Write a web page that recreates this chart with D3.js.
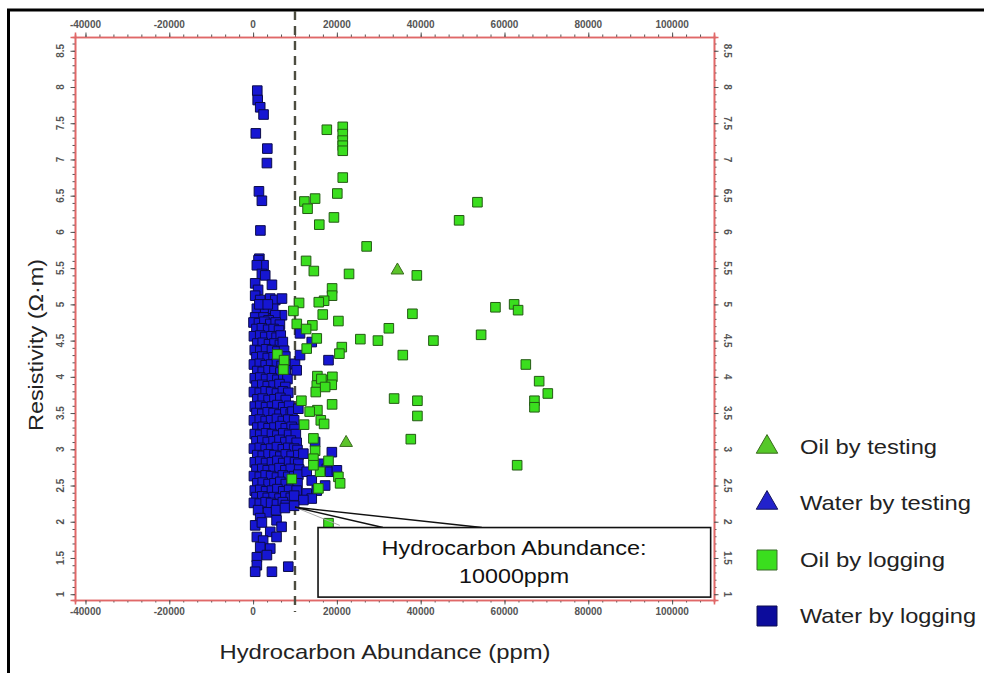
<!DOCTYPE html>
<html><head><meta charset="utf-8">
<script src="https://cdn.jsdelivr.net/npm/d3@7"></script>
<style>
body{margin:0;background:#fff;}
svg{display:block;font-family:Arial,"Liberation Sans",sans-serif;}
</style>
</head><body>
<svg id="c" width="984" height="673"></svg>
<script>
// ---------- data ----------
const xTicks = [-40000,-20000,0,20000,40000,60000,80000,100000];
const yTicks = [1,1.5,2,2.5,3,3.5,4,4.5,5,5.5,6,6.5,7,7.5,8,8.5];
const yTickLabels = ["1","1.5","2","2.5","3","3.5","4","4.5","5","5.5","6","6.5","7","7.5","8","8.5"];
const legendLabels = ["Oil by testing","Water by testing","Oil by logging","Water by logging"];
const xTitle = "Hydrocarbon Abundance (ppm)";
const yTitle = "Resistivity (\u03A9\u00B7m)";
const cutoff = 10000;
const noteLines = ["Hydrocarbon Abundance:","10000ppm"];

const oilTesting = [[34450,5.47],[22200,3.09]];
const waterTesting = [];
const oilLogging = [
[17600,7.41],[21400,7.45],[21400,7.35],[21400,7.26],[21400,7.19],[21400,7.12],[21400,6.75],[20100,6.53],
[14800,6.46],[12250,6.42],[13000,6.32],[19300,6.20],[15800,6.10],[27100,5.80],[12650,5.60],[14500,5.46],
[22900,5.42],[18860,5.22],[18860,5.12],[16950,5.05],[15680,5.03],[10980,5.02],[9620,4.91],[16630,4.86],
[20360,4.77],[10430,4.73],[14150,4.71],[12650,4.66],[32400,4.67],[15200,4.53],[25600,4.52],[29800,4.50],
[21170,4.41],[20600,4.32],[12800,4.39],[5800,4.31],[7400,4.23],[7240,4.10],[15350,4.01],[17600,3.95],
[18930,4.00],[15200,3.88],[14960,3.79],[18780,3.89],[33660,3.70],[11530,3.67],[18860,3.62],[15350,3.54],
[16160,3.40],[12170,3.34],[16950,3.35],[14400,3.15],[14800,2.98],[14400,2.87],[18000,2.84],[16000,2.69],
[14400,2.78],[20360,2.62],[20770,2.53],[9240,2.59],[15600,2.46],[18000,1.98],[53540,6.41],[49170,6.16],
[39080,5.40],[38030,4.87],[43040,4.50],[35730,4.30],[57840,4.96],[62300,5.00],[63250,4.92],[54420,4.58],
[65090,4.17],[68270,3.94],[70340,3.77],[67150,3.67],[67150,3.58],[39220,3.67],[39220,3.46],[37640,3.14],
[63020,2.78],[16300,3.97],[17200,3.86],[13500,3.52]
];
const waterLogging = [
[1000,7.95],[1100,7.82],[1700,7.72],[2500,7.62],[650,7.36],[3400,7.15],[3300,6.95],[1400,6.56],[2100,6.43],[1750,6.02],[1500,5.63],
[1300,5.61],[2500,5.54],[900,5.54],[2100,5.42],[2900,5.40],[500,5.29],[4500,5.27],[1200,5.20],[500,5.12],[1700,5.06],[4100,5.08],[5300,5.06],[6900,5.08],[900,4.94],[2900,4.89],[4800,4.94],[6900,4.85],[500,4.82],[2500,4.82],[5300,4.85],[3700,4.78],[1500,5.00],[3500,5.00],
[100,4.75],[1400,4.74],[2700,4.76],[4100,4.73],[5400,4.75],[6400,4.72],
[800,4.66],[2100,4.67],[3600,4.65],[4900,4.66],[6200,4.64],
[200,4.56],[1700,4.57],[2900,4.55],[4400,4.56],[5600,4.54],[6600,4.57],
[1000,4.46],[2300,4.47],[3800,4.45],[5100,4.46],[6400,4.44],[7100,4.48],
[400,4.37],[1700,4.36],[3100,4.38],[4500,4.37],[5800,4.35],[7400,4.36],
[800,4.27],[2200,4.28],[3500,4.26],[4900,4.27],[6300,4.25],[7700,4.28],
[200,4.17],[1600,4.18],[3000,4.16],[4300,4.17],[5700,4.19],[6800,4.15],[8000,4.17],
[1000,4.08],[2300,4.07],[3700,4.09],[5100,4.08],[6500,4.06],[7800,4.09],
[400,3.98],[1700,3.99],[3100,3.97],[4500,3.98],[5800,3.96],[7200,3.99],[8200,3.97],
[800,3.88],[2200,3.89],[3500,3.87],[4900,3.88],[6300,3.90],[7700,3.86],
[200,3.79],[1600,3.78],[3000,3.80],[4300,3.79],[5700,3.77],[7100,3.80],[8400,3.78],
[1000,3.69],[2300,3.70],[3700,3.68],[5100,3.69],[6500,3.71],[7800,3.68],
[400,3.59],[1700,3.60],[3100,3.58],[4500,3.59],[5800,3.61],[7200,3.58],[8600,3.60],
[800,3.50],[2200,3.49],[3500,3.51],[4900,3.50],[6300,3.48],[7700,3.51],[9000,3.49],[9400,3.52],
[200,3.40],[1600,3.41],[3000,3.39],[4300,3.40],[5700,3.42],[7100,3.39],[8400,3.41],[9800,3.40],
[1000,3.30],[2300,3.31],[3700,3.29],[5100,3.30],[6500,3.32],[7800,3.29],[9200,3.31],[9900,3.28],
[400,3.21],[1700,3.20],[3100,3.22],[4500,3.21],[5800,3.19],[7200,3.22],[8600,3.20],[10200,3.21],
[800,3.11],[2200,3.12],[3500,3.10],[4900,3.11],[6300,3.13],[7700,3.10],[9000,3.12],[10400,3.09],
[200,3.01],[1600,3.02],[3000,3.00],[4300,3.01],[5700,3.03],[7100,3.00],[8400,3.02],[9800,3.01],[10600,2.99],
[1000,2.92],[2300,2.91],[3700,2.93],[5100,2.92],[6500,2.90],[7800,2.93],[9200,2.91],[10800,2.92],
[400,2.82],[1700,2.83],[3100,2.81],[4500,2.82],[5800,2.84],[7200,2.81],[8600,2.83],[10000,2.82],[10800,2.80],
[800,2.72],[2200,2.73],[3500,2.71],[4900,2.72],[6300,2.74],[7700,2.71],[9000,2.73],[11000,2.72],
[200,2.63],[1600,2.62],[3000,2.64],[4300,2.63],[5700,2.61],[7100,2.64],[8400,2.62],[9800,2.63],[10800,2.65],
[1000,2.53],[2300,2.54],[3700,2.52],[5100,2.53],[6500,2.55],[7800,2.52],[9200,2.54],[10600,2.53],
[400,2.43],[1700,2.44],[3100,2.42],[4500,2.43],[5800,2.45],[7200,2.42],[8600,2.44],[10400,2.43],
[800,2.34],[2200,2.35],[3500,2.33],[4900,2.34],[6300,2.32],[7700,2.35],[9000,2.33],[9800,2.36],
[200,2.26],[1600,2.25],[3000,2.27],[4300,2.26],[5700,2.24],[7100,2.27],[7800,2.23],
[11200,4.60],[10000,4.18],[11200,4.30],[10400,4.09],[14000,4.48],[18000,4.23],[10800,3.56],
[14800,3.10],[18800,2.96],[12000,2.94],[16000,2.80],[17600,2.73],[18400,2.69],[12800,2.69],[20000,2.71],[14000,2.57],[17200,2.50],[15200,2.43],[12800,2.39],[14000,2.32],[12000,2.30],
[1200,2.16],[3600,2.13],[5500,2.16],[7600,2.19],[9800,2.22],[1700,2.05],
[500,1.95],[2100,1.99],[5600,2.02],[6800,1.93],[4100,1.86],[900,1.79],[2400,1.74],[5600,1.79],[1700,1.65],[4100,1.63],[900,1.51],[3300,1.54],[900,1.40],[500,1.31],[4500,1.31],[8400,1.38]
];

// ---------- drawing ----------
const svg = d3.select("#c");
const x = d3.scaleLinear().domain([-42500,110000]).range([75,714]);
const y = d3.scaleLinear().domain([0.92,8.69]).range([600,37]);

const AX_RED = "#e06868", TICK = "#555";

// frame
svg.append("path").attr("d","M8.5,673 V10 H984").attr("fill","none").attr("stroke","#000").attr("stroke-width",3);

const xMinor = d3.range(-40000-20000, 110001, 20000/6).filter(v=>v>=x.domain()[0] && v<=x.domain()[1]);
const yMinor = d3.range(1, 8.71, 0.1).filter(v=>v>=y.domain()[0] && v<=y.domain()[1]);

function addAxis(gen, tr, vals, size){
  const g = svg.append("g").attr("transform",tr)
    .call(gen.tickValues(vals).tickSize(size).tickFormat(""));
  g.select(".domain").attr("stroke",AX_RED).attr("stroke-width",1.6);
  g.selectAll(".tick line").attr("stroke",TICK).attr("stroke-width",1);
  return g;
}
addAxis(d3.axisBottom(x),"translate(0,600)",xMinor,2.5);
addAxis(d3.axisBottom(x),"translate(0,600)",xTicks,4.5);
addAxis(d3.axisTop(x),"translate(0,37)",xMinor,2.5);
addAxis(d3.axisTop(x),"translate(0,37)",xTicks,4.5);
addAxis(d3.axisLeft(y),"translate(75,0)",yMinor,2.5);
addAxis(d3.axisLeft(y),"translate(75,0)",yTicks,4.5);
addAxis(d3.axisRight(y),"translate(714,0)",yMinor,2.5);
addAxis(d3.axisRight(y),"translate(714,0)",yTicks,4.5);

const lab = {fill:"#555","font-size":"10px","font-weight":"bold"};
function styl(sel,o){for(const k in o) sel.attr(k,o[k]); return sel;}
xTicks.forEach(v=>{
  styl(svg.append("text").attr("x",x(v)).attr("y",615).attr("text-anchor","middle").text(String(v)),lab);
  styl(svg.append("text").attr("x",x(v)).attr("y",28).attr("text-anchor","middle").text(String(v)),lab);
});
yTicks.forEach((v,i)=>{
  styl(svg.append("text").attr("transform",`translate(64,${y(v)}) rotate(-90)`).attr("text-anchor","middle").text(yTickLabels[i]),lab);
  styl(svg.append("text").attr("transform",`translate(724,${y(v)}) rotate(90)`).attr("text-anchor","middle").text(yTickLabels[i]),lab);
});

// cutoff dashed line
svg.append("line").attr("x1",x(cutoff)).attr("x2",x(cutoff)).attr("y1",11).attr("y2",612)
  .attr("stroke","#4d4d40").attr("stroke-width",2.4).attr("stroke-dasharray","9,6");

// markers
const sq = d3.symbol().type(d3.symbolSquare).size(92)();
const tri = d3.symbol().type(d3.symbolTriangle).size(70)();
function pts(data, path, fill, stroke){
  svg.append("g").selectAll("path").data(data).join("path")
    .attr("d",path).attr("transform",d=>`translate(${x(d[0])},${y(d[1])})`)
    .attr("fill",fill).attr("stroke",stroke).attr("stroke-width",1);
}
pts(waterLogging, sq, "#1616d2", "#0b0b4a");
pts(oilLogging, sq, "#3ade1e", "#245a14");
pts(waterTesting, tri, "#2020cc", "#10105a");
pts(oilTesting, tri, "#5cc42a", "#3a6a1e");

// callout
const apex = [x(cutoff), y(2.2)];
svg.append("line").attr("x1",apex[0]).attr("y1",apex[1]).attr("x2",x(20700)).attr("y2",y(1.95)).attr("stroke","#aaa").attr("stroke-width",1);
svg.append("path").attr("d",`M${x(31000)},${y(1.92)} L${apex[0]},${apex[1]} L${x(54600)},${y(1.92)}`)
  .attr("fill","none").attr("stroke","#111").attr("stroke-width",1.4);
svg.append("rect").attr("x",x(15500)).attr("y",y(1.92)).attr("width",x(109200)-x(15500)).attr("height",y(0.96)-y(1.92))
  .attr("fill","#fff").attr("stroke","#111").attr("stroke-width",1.6);
svg.append("text").attr("x",x(62300)).attr("y",555).attr("text-anchor","middle").attr("font-size","20px").attr("fill","#111")
  .attr("textLength",265).attr("lengthAdjust","spacingAndGlyphs").text(noteLines[0]);
svg.append("text").attr("x",x(62300)).attr("y",583).attr("text-anchor","middle").attr("font-size","20px").attr("fill","#111")
  .attr("textLength",110).attr("lengthAdjust","spacingAndGlyphs").text(noteLines[1]);

// titles
svg.append("text").attr("x",385).attr("y",659).attr("text-anchor","middle").attr("font-size","21px").attr("fill","#222")
  .attr("textLength",331).attr("lengthAdjust","spacingAndGlyphs").text(xTitle);
svg.append("text").attr("transform","translate(43,345) rotate(-90)").attr("text-anchor","middle").attr("font-size","21px").attr("fill","#222")
  .attr("textLength",172).attr("lengthAdjust","spacingAndGlyphs").text(yTitle);

// legend
const legTri = d3.symbol().type(d3.symbolTriangle).size(200)();
const legSq = d3.symbol().type(d3.symbolSquare).size(400)();
const legSpec = [
  {p:legTri, f:"#55c828", s:"#3a6a1e", yy:447, w:137},
  {p:legTri, f:"#2222cc", s:"#14145a", yy:503, w:171},
  {p:legSq,  f:"#3ade1e", s:"#3a6a2a", yy:560, w:145},
  {p:legSq,  f:"#0c0c9c", s:"#0c0c50", yy:616, w:176}
];
legSpec.forEach((L,i)=>{
  svg.append("path").attr("d",L.p).attr("transform",`translate(767,${L.yy})`).attr("fill",L.f).attr("stroke",L.s).attr("stroke-width",1);
  svg.append("text").attr("x",800).attr("y",L.yy+7).attr("font-size","21px").attr("fill","#222")
    .attr("textLength",L.w).attr("lengthAdjust","spacingAndGlyphs").text(legendLabels[i]);
});
</script>
</body></html>
